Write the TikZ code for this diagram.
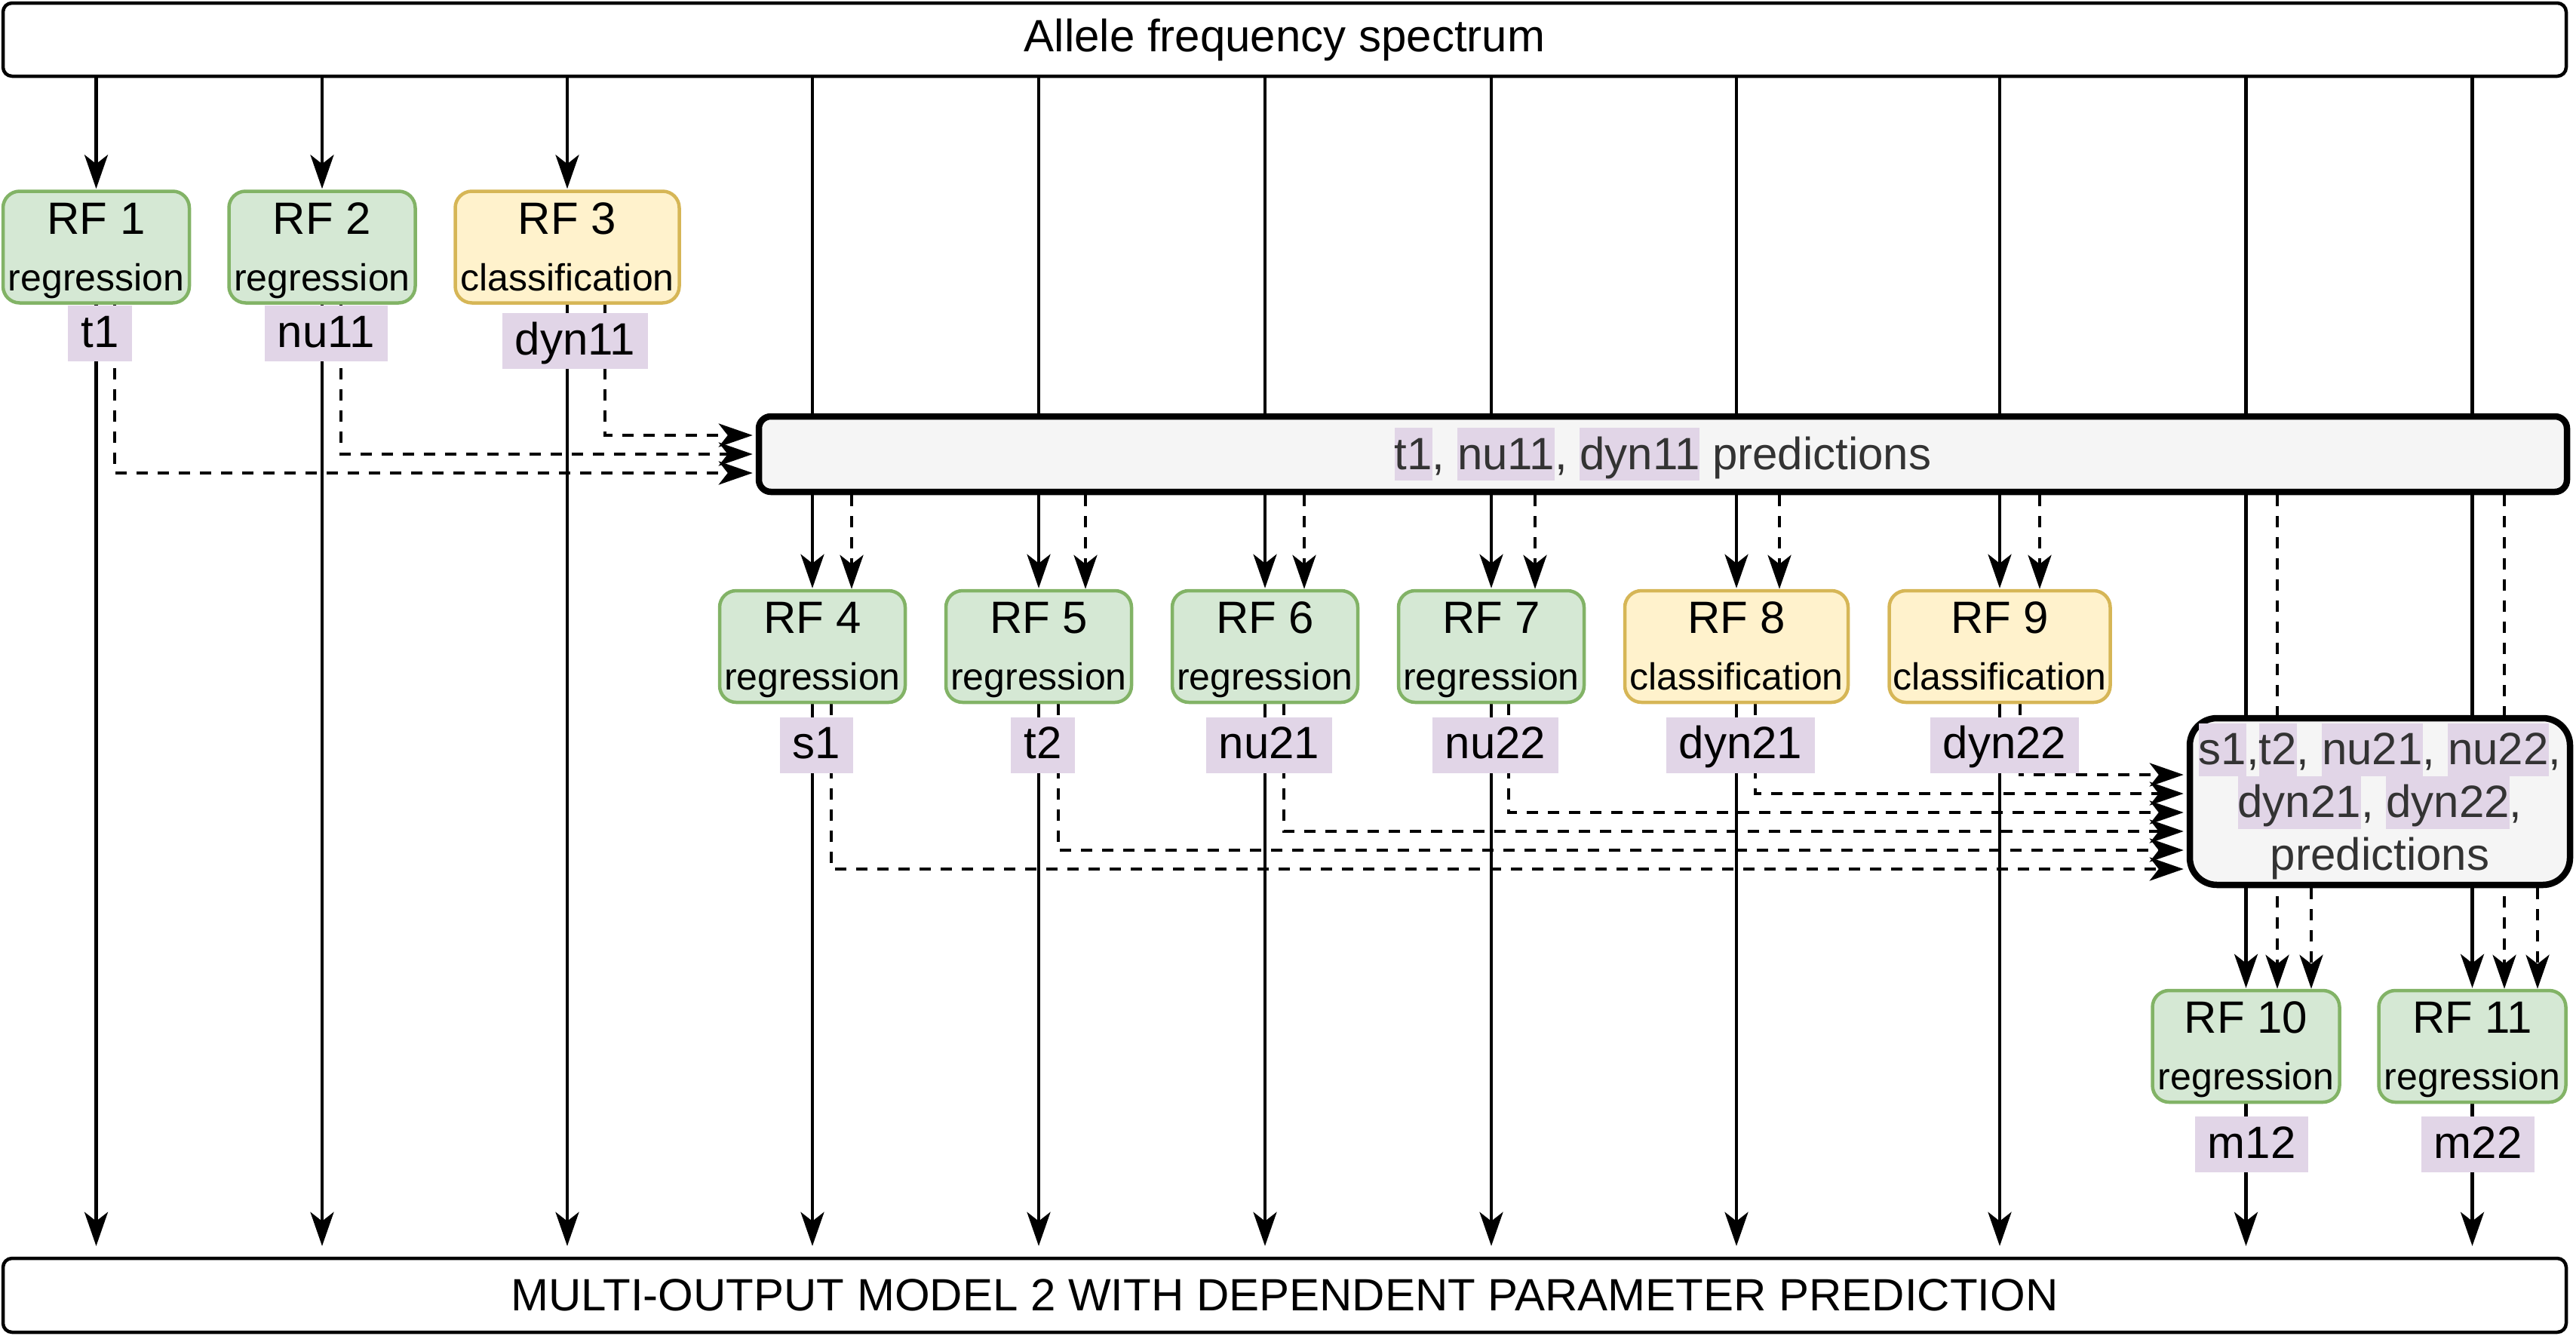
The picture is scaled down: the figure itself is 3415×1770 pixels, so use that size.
\documentclass[tikz,border=0pt]{standalone}
\usepackage{fontspec}
\setmainfont{Liberation Sans}
\usetikzlibrary{arrows.meta,calc}
\definecolor{gfill}{HTML}{D5E8D4}
\definecolor{gdraw}{HTML}{82B366}
\definecolor{yfill}{HTML}{FFF2CC}
\definecolor{ydraw}{HTML}{D6B656}
\definecolor{hlc}{HTML}{E1D5E7}
\definecolor{mfill}{HTML}{F5F5F5}
\definecolor{mtext}{HTML}{333333}
\newcommand\fbig{\fontsize{60}{70}\selectfont}
\newcommand\fsml{\fontsize{50}{60}\selectfont}
\newcommand\hl[1]{{\setlength{\fboxsep}{0pt}\colorbox{hlc}{\rule[-15pt]{0pt}{70pt}#1}}}
\pgfdeclarelayer{bg}
\pgfsetlayers{bg,main}
\newcommand\rfnode[7]{%
  \node[#4, minimum width=#5] (#1) at (#2,#3) {};
  \node[anchor=base, inner sep=0pt, font=\fbig] (#1-t) at (#2,#3-17.5) {#6};
  \node[anchor=base, inner sep=0pt, font=\fsml] (#1-s) at (#2,#3+57.5) {#7};
}
\begin{document}
\begin{tikzpicture}[x=1pt,y=-1pt,
  box/.style={draw, line width=4.5pt, rounded corners=12pt, fill=white, minimum width=3398pt, minimum height=97pt, inner sep=0pt, font=\fbig},
  pred/.style={draw, line width=8.5pt, fill=mfill, text=mtext, font=\fbig, inner sep=0pt},
  rfg/.style={draw=gdraw, fill=gfill, line width=4.5pt, rounded corners=22pt, minimum height=148pt, inner sep=0pt},
  rfy/.style={rfg, draw=ydraw, fill=yfill},
  lab/.style={fill=hlc, font=\fbig, inner xsep=17pt, inner ysep=0pt, text height=47pt, text depth=11pt, minimum height=74pt},
  conn/.style={line width=4.5pt, -{Stealth[length=45pt,width=31pt,inset=12pt]}},
  dl/.style={conn, dash pattern=on 15pt off 13pt}]
\useasboundingbox (0,0) rectangle (3415,1770);

% big boxes
\node[box] (top) at (1703,52.5) {Allele frequency spectrum};
\node[box, minimum height=98pt] (bot) at (1703,1717) {MULTI-OUTPUT MODEL 2 WITH DEPENDENT PARAMETER PREDICTION};
\node[pred, minimum width=2397pt, minimum height=100pt, rounded corners=16pt] (mid) at (2204.5,602) {\hl{t1}, \hl{nu11}, \hl{dyn11} predictions};
\node[pred, minimum width=504pt, minimum height=221pt, rounded corners=36pt, align=center] (sec) at (3155,1062.5) {\hl{s1},\hl{t2}, \hl{nu21}, \hl{nu22},\\\hl{dyn21}, \hl{dyn22},\\predictions};

% RF boxes
\rfnode{rf1}{127.5}{327.5}{rfg}{247pt}{RF 1}{regression}
\rfnode{rf2}{427}{327.5}{rfg}{247pt}{RF 2}{regression}
\rfnode{rf3}{752}{327.5}{rfy}{297pt}{RF 3}{classification}
\rfnode{rf4}{1077}{857}{rfg}{246pt}{RF 4}{regression}
\rfnode{rf5}{1377}{857}{rfg}{246pt}{RF 5}{regression}
\rfnode{rf6}{1677}{857}{rfg}{246pt}{RF 6}{regression}
\rfnode{rf7}{1977}{857}{rfg}{246pt}{RF 7}{regression}
\rfnode{rf8}{2302}{857}{rfy}{296pt}{RF 8}{classification}
\rfnode{rf9}{2651}{857}{rfy}{293pt}{RF 9}{classification}
\rfnode{rf10}{2977.5}{1387}{rfg}{248pt}{RF 10}{regression}
\rfnode{rf11}{3277.5}{1387}{rfg}{248pt}{RF 11}{regression}

% labels
\node[lab] (lt1) at (132.5,442) {t1};
\node[lab] (lnu11) at (432.5,442) {nu11};
\node[lab] (ldyn11) at (762.5,452) {dyn11};
\node[lab] (ls1) at (1082.5,987.5) {s1};
\node[lab] (lt2) at (1382.5,987.5) {t2};
\node[lab] (lnu21) at (1682.5,987.5) {nu21};
\node[lab] (lnu22) at (1982.5,987.5) {nu22};
\node[lab] (ldyn21) at (2307.5,987.5) {dyn21};
\node[lab] (ldyn22) at (2657.5,987.5) {dyn22};
\node[lab] (lm12) at (2985,1517) {m12};
\node[lab] (lm22) at (3285,1517) {m22};

\begin{pgfonlayer}{bg}
% columns from the spectrum box
\foreach \i in {1,...,11} {
  \draw[conn, shorten >=1pt] (rf\i.north |- top.south) -- (rf\i.north);
  \draw[conn, shorten >=14pt] (rf\i.south) -- (rf\i.south |- bot.north);
}
% first-stage predictions into the middle box
\draw[dl, shorten >=4pt] ([xshift=24.5pt]rf1.south) |- (mid.west |- 0,627);
\draw[dl, shorten >=4pt] ([xshift=25pt]rf2.south) |- (mid.west |- 0,602);
\draw[dl, shorten >=4pt] ([xshift=50pt]rf3.south) |- (mid.west |- 0,577);
% middle box to second stage
\draw[dl] (1129,0 |- mid.south) -- (1129,0 |- rf4.north);
\draw[dl] (1439,0 |- mid.south) -- (1439,0 |- rf5.north);
\draw[dl] (1729,0 |- mid.south) -- (1729,0 |- rf6.north);
\draw[dl] (2035,0 |- mid.south) -- (2035,0 |- rf7.north);
\draw[dl] (2359,0 |- mid.south) -- (2359,0 |- rf8.north);
\draw[dl] (2704,0 |- mid.south) -- (2704,0 |- rf9.north);
\draw[dl] (3019,0 |- mid.south) -- (3019,0 |- rf10.north);
\draw[dl] (3320,0 |- mid.south) -- (3320,0 |- rf11.north);
% second-stage predictions into the second box
\draw[dl, shorten >=4pt] ([xshift=25pt]rf4.south) |- (sec.west |- 0,1152);
\draw[dl, shorten >=4pt] ([xshift=26pt]rf5.south) |- (sec.west |- 0,1127);
\draw[dl, shorten >=4pt] ([xshift=25pt]rf6.south) |- (sec.west |- 0,1102);
\draw[dl, shorten >=4pt] ([xshift=23pt]rf7.south) |- (sec.west |- 0,1077);
\draw[dl, shorten >=4pt] ([xshift=25pt]rf8.south) |- (sec.west |- 0,1052);
\draw[dl, shorten >=4pt] ([xshift=27pt]rf9.south) |- (sec.west |- 0,1027);
% second box to third stage
\draw[dl] (3064,0 |- sec.south) -- (3064,0 |- rf10.north);
\draw[dl] (3364,0 |- sec.south) -- (3364,0 |- rf11.north);
\end{pgfonlayer}
\end{tikzpicture}
\end{document}
